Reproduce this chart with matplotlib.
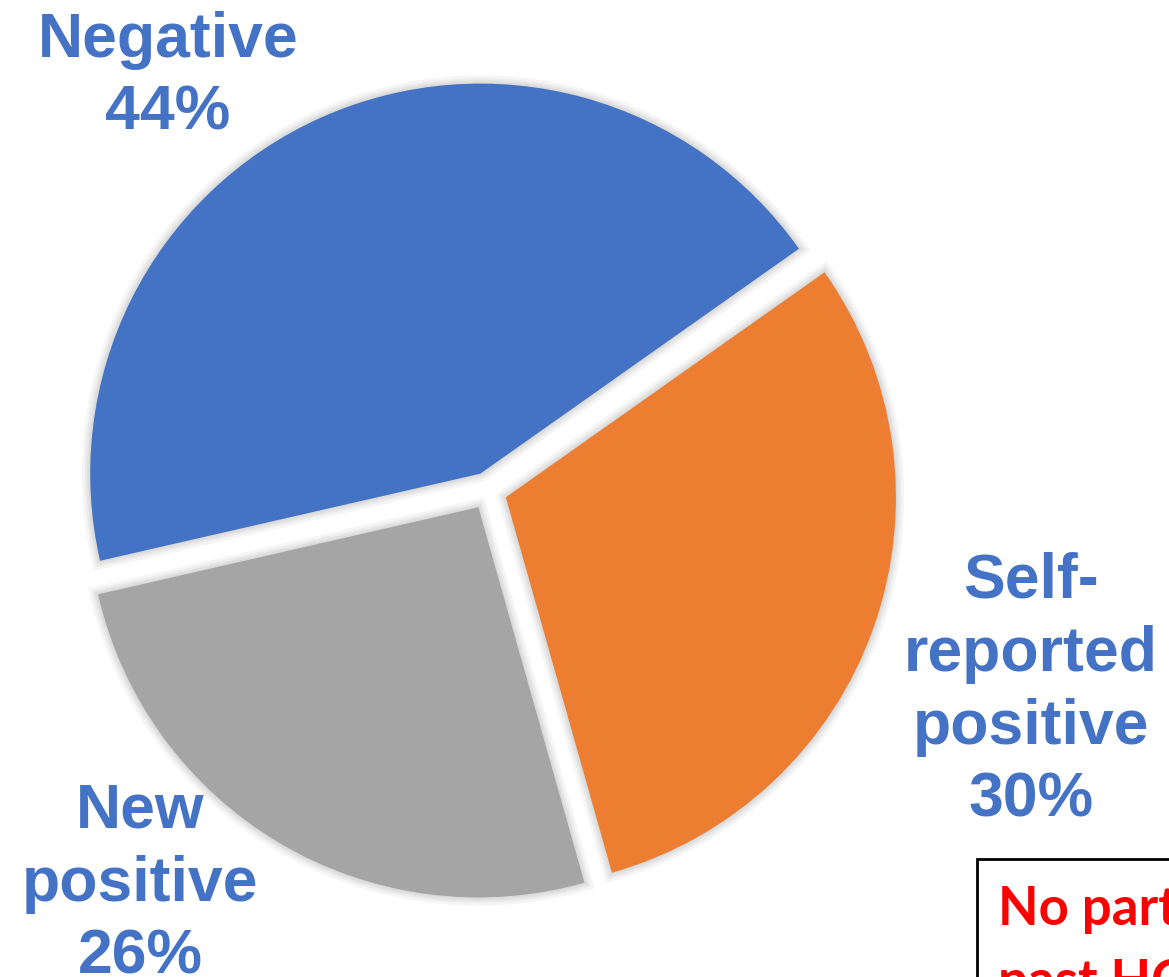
import matplotlib.pyplot as plt
import matplotlib.patheffects as pe
from matplotlib.patches import Rectangle

# slice data (clockwise from the left edge of "Negative")
labels = ["Negative", "Self-\nreported\npositive", "New\npositive"]
shares = [43.8, 30.4, 25.8]
colors = ["#4472C4", "#ED7D31", "#A5A5A5"]
label_color = "#4472C4"

note_text = "No participants with\npast HCV infection"
note_color = "#FF0000"

W, H = 1169, 978
fig = plt.figure(figsize=(W / 100, H / 100), dpi=100)
ax = fig.add_axes([0, 0, 1, 1])

# soft shadow under each slice
shadow = [pe.Stroke(linewidth=lw, foreground="black", alpha=0.04) for lw in (12, 8, 5, 2)]
shadow.append(pe.Normal())

wedges, _ = ax.pie(shares, colors=colors, startangle=192.9, counterclock=False,
                   explode=[19] * 3, radius=390, center=(488, H - 492),
                   frame=True, wedgeprops=dict(linewidth=0))
for w in wedges:
    w.set_path_effects(shadow)

ax.set_xlim(0, W)
ax.set_ylim(0, H)
ax.set_aspect("equal")
ax.axis("off")

# label anchors: (x centre, baseline of first line) in pixels from top
anchors = [(168, 57), (1031, 598), (140, 828)]
line_step = 73
for (lx, ly), lab, s in zip(anchors, labels, shares):
    lines = f"{lab}\n{s:.0f}%".split("\n")
    for i, line in enumerate(lines):
        ax.text(lx, H - ly - i * line_step, line, ha="center", va="baseline",
                fontsize=45, fontweight="bold", color=label_color,
                family="Liberation Sans")

# note box in bottom-right corner (runs off the canvas)
ax.add_patch(Rectangle((977, -50), 400, H - 860 + 50, facecolor="white",
                       edgecolor="black", linewidth=2, clip_on=False))
for i, line in enumerate(note_text.split("\n")):
    ax.text(998, H - 925 - i * 73, line, ha="left", va="baseline",
            fontsize=38, fontweight="bold", color=note_color, family="Lato")

fig.savefig("out.png", dpi=100)
